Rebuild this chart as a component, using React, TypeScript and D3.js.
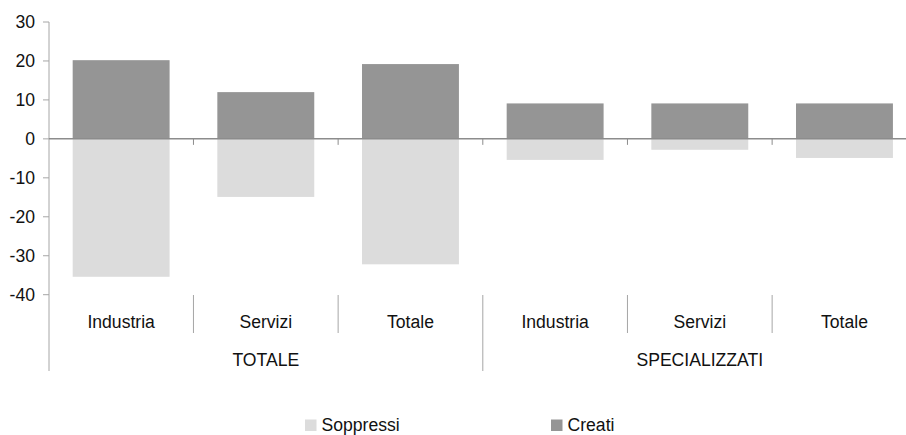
import React from "react";
import * as d3 from "d3";

const categories = ["Industria", "Servizi", "Totale", "Industria", "Servizi", "Totale"];
const groups = ["TOTALE", "SPECIALIZZATI"];
const creati = [20.2, 12.0, 19.2, 9.1, 9.1, 9.1];
const soppressi = [-35.4, -14.9, -32.2, -5.4, -2.8, -4.9];
const yTicks = [30, 20, 10, 0, -10, -20, -30, -40];
const seriesNames = ["Soppressi", "Creati"];
const colors = { Creati: "#959595", Soppressi: "#dcdcdc" };

export default function App() {
  const W = 906, H = 435;
  const x = d3.scaleBand<number>().domain(d3.range(categories.length)).range([48.8, 916.8]).padding(0);
  const y = d3.scaleLinear().domain([-40, 30]).range([294.7, 22]);
  const bw = x.bandwidth() * 0.67;
  const font = "'Liberation Sans', Arial, sans-serif";
  const axisColor = "#a6a6a6";
  const fs = 17.6;
  return (
    <svg width={W} height={H} style={{ position: "absolute", left: 0, top: 0, background: "#fff" }} fontFamily={font}>
      {categories.map((c, i) => {
        const cx = (x(i) as number) + x.bandwidth() / 2;
        return (
          <g key={i}>
            <rect x={cx - bw / 2} y={y(0)} width={bw} height={y(soppressi[i]) - y(0)} fill={colors.Soppressi} />
            <rect x={cx - bw / 2} y={y(creati[i])} width={bw} height={y(0) - y(creati[i])} fill={colors.Creati} />
          </g>
        );
      })}
      <line x1={49} x2={49} y1={y(30)} y2={371} stroke={axisColor} strokeWidth={1} />
      {yTicks.map((t) => (
        <g key={t}>
          <line x1={43} x2={49} y1={y(t)} y2={y(t)} stroke={axisColor} />
          <text x={35} y={y(t)} dy="0.35em" textAnchor="end" fontSize={fs} fill="#111">{t}</text>
        </g>
      ))}
      <line x1={49} x2={W} y1={y(0)} y2={y(0)} stroke="#8c8c8c" strokeWidth={1.5} />
      {d3.range(1, categories.length).map((i) => (
        <line key={"zt" + i} x1={x(i) as number} x2={x(i) as number} y1={y(0)} y2={y(0) + 6} stroke="#8c8c8c" />
      ))}
      {d3.range(1, categories.length).map((i) => (
        <line key={"sep" + i} x1={x(i) as number} x2={x(i) as number} y1={295} y2={i === 3 ? 371 : 333} stroke={axisColor} />
      ))}
      {categories.map((c, i) => (
        <text key={"cl" + i} x={(x(i) as number) + x.bandwidth() / 2} y={322} dy="0.35em" textAnchor="middle" fontSize={fs} fill="#111">{c}</text>
      ))}
      {groups.map((g, gi) => {
        const x0 = x(gi * 3) as number;
        const x1 = (x(gi * 3 + 2) as number) + x.bandwidth();
        return (
          <text key={g} x={(x0 + x1) / 2} y={360} dy="0.35em" textAnchor="middle" fontSize={fs} fill="#111">{g}</text>
        );
      })}
      {seriesNames.map((s, i) => {
        const lx = i === 0 ? 305 : 551;
        return (
          <g key={s}>
            <rect x={lx} y={419.5} width={11.5} height={11.5} fill={(colors as any)[s]} />
            <text x={lx + 16.5} y={424.5} dy="0.35em" fontSize={fs} fill="#111">{s}</text>
          </g>
        );
      })}
    </svg>
  );
}
